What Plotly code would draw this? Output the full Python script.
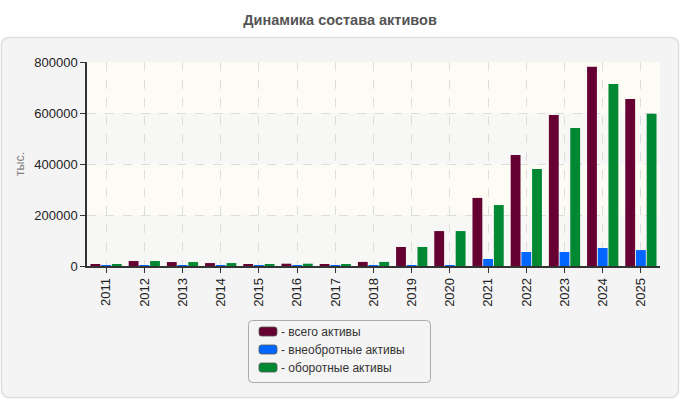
import plotly.graph_objects as go

years = [str(y) for y in range(2011, 2026)]
total = [5000, 19500, 15500, 11500, 5000, 9000, 5000, 16000, 74500, 137000, 267000, 435000, 592000, 781000, 655000]
noncurrent = [2500, 2500, 2500, 2500, 2500, 2500, 2500, 2500, 3000, 3000, 27500, 55000, 55000, 70500, 62500]
current = [4000, 19500, 15500, 11500, 4000, 9000, 4000, 16000, 74500, 137000, 239000, 380000, 541000, 714000, 597000]

names = ["- всего активы", "- внеобротные активы", "- оборотные активы"]
colors = ["#660033", "#0066ff", "#008833"]
tick_vals = [0, 200000, 400000, 600000, 800000]

W, H = 680, 400
ml, mr, mt, mb = 87, 20, 62, 134
pw, ph = W - ml - mr, H - mt - mb


def px(x):
    return (x - ml) / pw


def py(y):
    return 1 - (y - mt) / ph


def rounded(x0, y0, x1, y1, r):
    return (f"M {px(x0+r)},{py(y0)} L {px(x1-r)},{py(y0)} Q {px(x1)},{py(y0)} {px(x1)},{py(y0+r)} "
            f"L {px(x1)},{py(y1-r)} Q {px(x1)},{py(y1)} {px(x1-r)},{py(y1)} "
            f"L {px(x0+r)},{py(y1)} Q {px(x0)},{py(y1)} {px(x0)},{py(y1-r)} "
            f"L {px(x0)},{py(y0+r)} Q {px(x0)},{py(y0)} {px(x0+r)},{py(y0)} Z")


fig = go.Figure()
for vals, name, col in zip([total, noncurrent, current], names, colors):
    fig.add_trace(go.Bar(x=years, y=vals, name=name, showlegend=False,
                         marker=dict(color=col, line=dict(width=0))))

# outer panel
fig.add_shape(type="path", xref="paper", yref="paper", layer="below",
              path=rounded(1.5, 37.5, 678.5, 397.5, 8),
              line=dict(color="#dedede", width=1.5), fillcolor="#f4f4f4")
# alternating bands
for i in range(len(tick_vals) - 1):
    fig.add_shape(type="rect", xref="paper", yref="y", layer="below",
                  x0=0, x1=1, y0=tick_vals[i], y1=tick_vals[i + 1], line=dict(width=0),
                  fillcolor="#f7f7f5" if i % 2 == 0 else "#fcfcf5")

# manual legend
fig.add_shape(type="path", xref="paper", yref="paper", path=rounded(248.5, 320.5, 430.5, 382.5, 4),
              line=dict(color="#aaaaaa", width=1), fillcolor="#f4f4f4")
for i, (name, col) in enumerate(zip(names, colors)):
    yc = 331.5 + 18 * i
    fig.add_shape(type="path", xref="paper", yref="paper",
                  path=rounded(259, yc - 4.5, 277, yc + 4.5, 2.5),
                  line=dict(color="#555555", width=0.8), fillcolor=col)
    fig.add_annotation(xref="paper", yref="paper", x=px(279), y=py(yc), text=name,
                       showarrow=False, xanchor="left", yanchor="middle",
                       font=dict(size=12, color="#333"))

fig.update_layout(
    width=W, height=H,
    margin=dict(l=ml, r=mr, t=mt, b=mb),
    paper_bgcolor="white",
    plot_bgcolor="rgba(0,0,0,0)",
    font=dict(family="Liberation Sans, Arial, sans-serif", size=13, color="#222"),
    title=dict(text="<b>Динамика состава активов</b>", x=0.5, xanchor="center",
               y=1 - 20 / H, yanchor="middle", font=dict(size=14.5, color="#555")),
    barmode="group", bargap=0.16, bargroupgap=0.08,
    showlegend=False,
)
fig.update_xaxes(showline=True, linecolor="#333", linewidth=1.5, ticks="outside",
                 ticklen=5, tickcolor="#333", tickangle=-90, showgrid=True,
                 gridcolor="#dddddd", griddash="dash", gridwidth=1, automargin=False)
fig.update_yaxes(range=[0, 800000], tickvals=tick_vals, tickformat="d", showline=True,
                 linecolor="#333", linewidth=1.5, ticks="outside", ticklen=5, tickcolor="#333",
                 showgrid=True, gridcolor="#dddddd", griddash="dash", zeroline=False,
                 automargin=False,
                 title=dict(text="тыс.", font=dict(size=12.5, color="#808080"), standoff=7))
fig.write_html("out.html")
